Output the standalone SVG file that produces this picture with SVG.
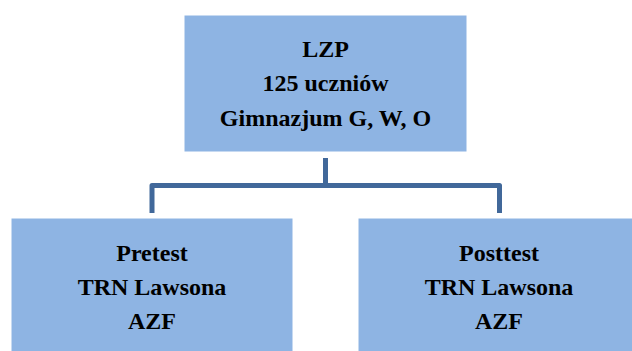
<svg xmlns="http://www.w3.org/2000/svg" width="632" height="351" viewBox="0 0 632 351">
<style>
.box{fill:#8EB4E3;stroke:#ffffff;stroke-width:1}
.t{font-family:"Liberation Serif","Times New Roman",serif;font-weight:700;font-size:24px;fill:#000;text-anchor:middle}
.c{fill:none;stroke:#41689A;stroke-width:5;stroke-linejoin:round}
</style>
<rect width="632" height="351" fill="#ffffff"/>
<g id="connectors">
<path class="c" d="M325.5 158 V185.5 M152 213 V185.5 H499.5 V213"/>
</g>
<g id="top">
<rect class="box" x="184" y="15" width="283" height="137"/>
<text class="t" x="325.5" y="57">LZP</text>
<text class="t" x="325.5" y="91">125 uczniów</text>
<text class="t" x="325.5" y="126">Gimnazjum G, W, O</text>
</g>
<g id="pretest">
<rect class="box" x="11" y="218" width="282" height="140"/>
<text class="t" x="152" y="261">Pretest</text>
<text class="t" x="152" y="295">TRN Lawsona</text>
<text class="t" x="152" y="329">AZF</text>
</g>
<g id="posttest">
<rect class="box" x="358" y="218" width="282" height="140"/>
<text class="t" x="499" y="261">Posttest</text>
<text class="t" x="499" y="295">TRN Lawsona</text>
<text class="t" x="499" y="329">AZF</text>
</g>
</svg>
